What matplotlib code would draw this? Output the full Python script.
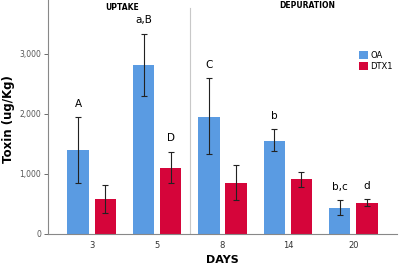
import numpy as np
import matplotlib
matplotlib.use("Agg")
import matplotlib.pyplot as plt

Days = ["3", "5", "8", "14", "20"]
OA = [1400, 2820, 1955, 1555, 440]
OA_Low = [845, 2300, 1330, 1378, 317]
OA_High = [1955, 3340, 2605, 1750, 567]
DTX1 = [583, 1105, 856, 917, 522]
DTX1_Low = [355, 850, 567, 789, 467]
DTX1_High = [812, 1372, 1150, 1039, 578]
OA_Letters = ["A", "a,B", "C", "b", "b,c"]
DTX1_Letters = ["", "D", "", "", "d"]

Blue = "#5a9be2"
Red = "#d5053a"

Fig = plt.figure(figsize=(4, 2.67), dpi=100)
Ax = Fig.add_axes([0.12, 0.1236, 0.8725, 0.8764])

X = np.arange(len(Days))
Width = 0.33
Offset = 0.207

OA_Err = [np.array(OA) - np.array(OA_Low), np.array(OA_High) - np.array(OA)]
DTX1_Err = [np.array(DTX1) - np.array(DTX1_Low), np.array(DTX1_High) - np.array(DTX1)]

ErrStyle = dict(ecolor="#222222", elinewidth=0.8, capsize=2.4, capthick=0.8)
Ax.bar(X - Offset, OA, Width, color=Blue, label="OA", yerr=OA_Err, error_kw=ErrStyle)
Ax.bar(X + Offset, DTX1, Width, color=Red, label="DTX1", yerr=DTX1_Err, error_kw=ErrStyle)

for i in range(len(Days)):
    if OA_Letters[i]:
        Ax.annotate(OA_Letters[i], (X[i] - Offset, OA_High[i]), xytext=(0, 9.5),
                    textcoords="offset points", ha="center", va="center", fontsize=7.5)
    if DTX1_Letters[i]:
        Ax.annotate(DTX1_Letters[i], (X[i] + Offset, DTX1_High[i]), xytext=(0, 9.5),
                    textcoords="offset points", ha="center", va="center", fontsize=7.5)

# separator between the two phases
Ax.plot([1.5, 1.5], [0, 3770], color="#c8c8c8", linewidth=0.8)
Ax.text(0.46, 3780, "UPTAKE", ha="center", va="center", fontsize=5.5, fontweight="bold")
Ax.text(3.3, 3810, "DEPURATION", ha="center", va="center", fontsize=5.5, fontweight="bold")

Ax.set_xlim(-0.67, 4.67)
Ax.set_ylim(0, 3900)
Ax.set_xticks(X)
Ax.set_xticklabels(Days)
Ax.set_yticks([0, 1000, 2000, 3000])
Ax.set_yticklabels(["0", "1,000", "2,000", "3,000"])
Ax.tick_params(axis="x", length=0, labelsize=6, colors="#333333", pad=5)
Ax.tick_params(axis="y", length=3, width=0.6, labelsize=5.5, colors="#555555", pad=2)

for Side in ["top", "right"]:
    Ax.spines[Side].set_visible(False)
for Side in ["left", "bottom"]:
    Ax.spines[Side].set_color("#888888")
    Ax.spines[Side].set_linewidth(0.8)

Ax.set_ylabel("Toxin (ug/Kg)", fontsize=8.5, fontweight="bold")
Ax.set_xlabel("DAYS", fontsize=8, fontweight="bold")
Ax.yaxis.set_label_coords(-0.095, 0.49)
Ax.xaxis.set_label_coords(0.5, -0.09)

Ax.legend(loc="upper left", bbox_to_anchor=(0.88, 0.8), frameon=False, fontsize=6,
          handlelength=1, handleheight=1, handletextpad=0.3, labelspacing=0.2, borderpad=0)

Fig.savefig("out.png", dpi=100)
